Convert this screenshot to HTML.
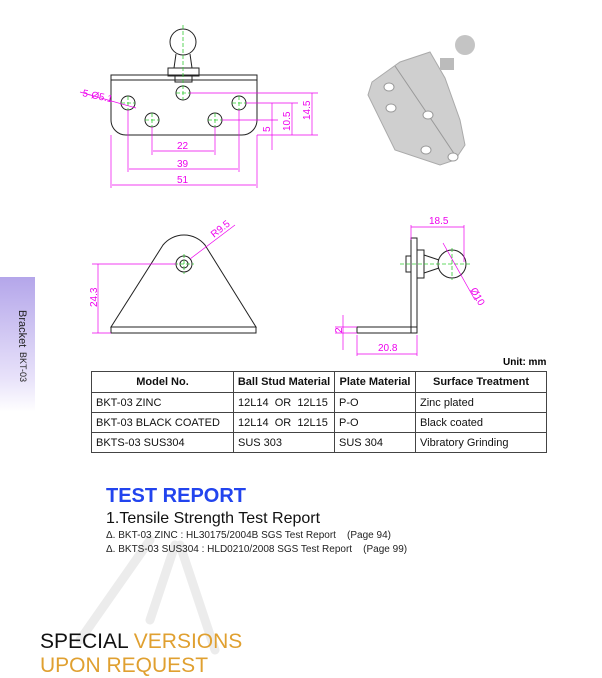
<!DOCTYPE html>
<html><head><meta charset="utf-8"><style>
body{margin:0;background:#fff;width:602px;height:675px;overflow:hidden;position:relative;font-family:"Liberation Sans",Arial,sans-serif}
.a{position:absolute;white-space:nowrap}
table{position:absolute;left:91px;top:371px;border-collapse:collapse;font-size:11px;color:#111;table-layout:fixed;width:455px}
td{border:1px solid #444;height:19px;padding:0 4px;white-space:nowrap;overflow:hidden}
th{border:1px solid #444;height:20px;font-size:11px;white-space:nowrap;overflow:hidden;padding:0}
</style></head><body>
<div class="a" style="left:0;top:277px;width:35px;height:135px;background:linear-gradient(#b4a6ea,#e8e2fa 75%,#fff)"></div>
<div class="a" style="top:310px;transform:rotate(90deg);transform-origin:0 0;left:28px;font-size:11px;color:#222">Bracket</div>
<div class="a" style="left:28px;top:352px;transform:rotate(90deg);transform-origin:0 0;font-size:9px;color:#222">BKT-03</div>
<svg class="a" style="left:0;top:0" width="602" height="675" font-family="Liberation Sans,Arial,sans-serif">
<g stroke="#ececec" stroke-width="9" stroke-linecap="round">
<path d="M150 540 L80 640 M175 545 L150 620 M180 545 L215 650"/>
</g>
<g fill="none" stroke="#222" stroke-width="1">
<circle cx="183" cy="42" r="13"/><path d="M176 54 L174 68 M190 54 L192 68"/>
<rect x="168" y="68" width="31" height="8"/><rect x="175" y="76" width="17" height="6"/>
<path d="M111 75 H257 V120 A15 15 0 0 1 242 135 H126 A15 15 0 0 1 111 120 Z M111 80 H257"/>
<circle cx="128" cy="103" r="7"/><circle cx="152" cy="120" r="7"/><circle cx="183" cy="93" r="7"/><circle cx="215" cy="120" r="7"/><circle cx="239" cy="103" r="7"/>
<path d="M111 327 L163 245 A27 27 0 0 1 205 245 L256 327 Z"/><rect x="111" y="327" width="145" height="6"/>
<circle cx="184" cy="264" r="8"/><circle cx="184" cy="264" r="4"/>
<rect x="411" y="238" width="6" height="95"/><rect x="357" y="327" width="60" height="6"/>
<rect x="406" y="256" width="5" height="16"/><rect x="417" y="250" width="7" height="28"/>
<path d="M424 255 L439 260 M424 273 L439 268"/><circle cx="452" cy="264" r="14"/>
</g>
<g stroke="#3c3" stroke-width="0.8" stroke-dasharray="4 2">
<path d="M183 25 V100 M121 103 H135 M128 96 V110 M145 120 H159 M152 113 V127 M208 120 H222 M215 113 V127 M232 103 H246 M239 96 V110 M176 93 H190"/>
<path d="M174 264 H194 M184 254 V274 M400 264 H470 M452 248 V280"/>
</g>
<g stroke="#e0e" stroke-width="0.7" fill="#e0e">
<path d="M128 110 V172 M239 110 V172 M152 127 V155 M215 127 V155 M111 135 V188 M257 135 V188 M153 151 H214 M129 169 H238 M112 185 H256"/>
<path d="M190 93 H318 M246 103 H298 M222 120 H278 M257 135 H318 M272 103 V150 M292 103 V135 M312 93 V135"/>
<path d="M80 92 L136 108 M98 264 V333 M92 264 H176 M92 333 H111 M190 259 L235 225 M411 225 V240 M464 225 V262 M411 227 H464 M443 243 L475 300 M343 315 V350 M335 327 H357 M335 333 H357 M357 335 V356 M417 335 V356 M357 354 H417"/>
</g>
<g fill="#e0e" font-size="10">
<text x="82" y="96" transform="rotate(12 82 96)">5-Ø5.1</text>
<text x="177" y="149">22</text><text x="177" y="167">39</text><text x="177" y="183">51</text>
<text transform="translate(270 132) rotate(-90)">5</text><text transform="translate(290 131) rotate(-90)">10.5</text><text transform="translate(310 120) rotate(-90)">14.5</text>
<text transform="translate(97 307) rotate(-90)">24.3</text>
<text transform="translate(214 238) rotate(-38)">R9.5</text>
<text x="429" y="224">18.5</text><text x="378" y="351">20.8</text>
<text transform="translate(342 333) rotate(-90)">2</text>
<text transform="translate(470 290) rotate(60)">Ø10</text>
</g>
<g>
<path d="M430 52 L445 78 L460 120 L465 145 L455 160 L440 165 L395 150 L368 95 L372 82 L400 62 Z" fill="#cfcfcf" stroke="#aaa"/>
<path d="M395 66 L435 125 L455 155" stroke="#999" fill="none"/>
<rect x="440" y="58" width="14" height="12" fill="#bbb"/>
<circle cx="465" cy="45" r="10" fill="#c4c4c4"/>
<g fill="#fff" stroke="#999"><ellipse cx="389" cy="87" rx="5" ry="4"/><ellipse cx="391" cy="108" rx="5" ry="4"/><ellipse cx="428" cy="115" rx="5" ry="4"/><ellipse cx="426" cy="150" rx="5" ry="4"/><ellipse cx="453" cy="157" rx="5" ry="4"/></g>
</g>
<text x="503" y="365" font-size="10" font-weight="bold">Unit: mm</text>
</svg>
<table>
<colgroup><col style="width:142px"><col style="width:101px"><col style="width:81px"><col style="width:131px"></colgroup>
<tr><th>Model No.</th><th>Ball Stud Material</th><th>Plate Material</th><th>Surface Treatment</th></tr>
<tr><td>BKT-03 ZINC</td><td>12L14&nbsp; OR&nbsp; 12L15</td><td>P-O</td><td>Zinc plated</td></tr>
<tr><td>BKT-03 BLACK COATED</td><td>12L14&nbsp; OR&nbsp; 12L15</td><td>P-O</td><td>Black coated</td></tr>
<tr><td>BKTS-03 SUS304</td><td>SUS 303</td><td>SUS 304</td><td>Vibratory Grinding</td></tr>
</table>
<div class="a" style="left:106px;top:485px;font-size:20px;font-weight:bold;color:#2244ee">TEST REPORT</div>
<div class="a" style="left:106px;top:510px;font-size:16px;color:#111">1.Tensile Strength Test Report</div>
<div class="a" style="left:106px;top:530px;font-size:10px;color:#222">Δ. BKT-03 ZINC : HL30175/2004B SGS Test Report &nbsp;&nbsp;&nbsp;(Page 94)</div>
<div class="a" style="left:106px;top:544px;font-size:10px;color:#222">Δ. BKTS-03 SUS304 : HLD0210/2008 SGS Test Report &nbsp;&nbsp;&nbsp;(Page 99)</div>
<div class="a" style="left:40px;top:630px;font-size:21px;color:#111">SPECIAL <span style="color:#e0a030">VERSIONS</span></div>
<div class="a" style="left:40px;top:654px;font-size:21px;color:#e0a030">UPON REQUEST</div>
</body></html>
